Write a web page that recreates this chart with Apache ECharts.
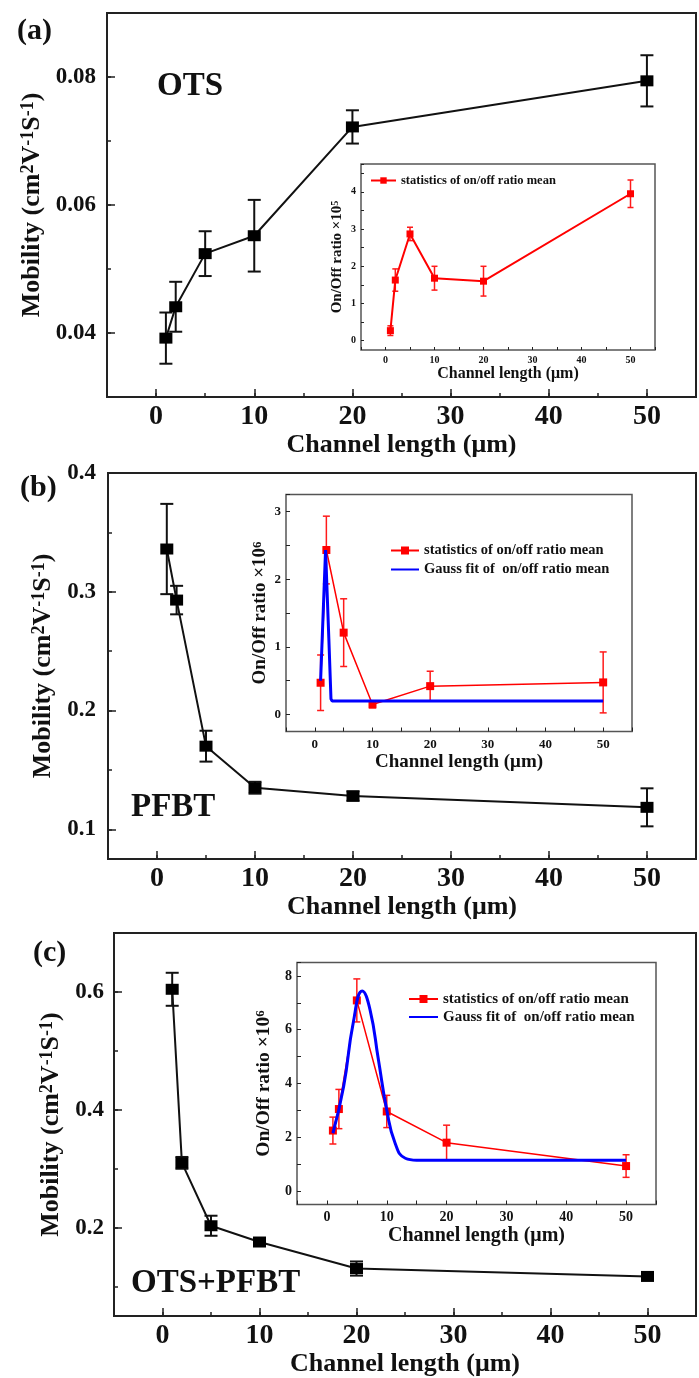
<!DOCTYPE html>
<html>
<head>
<meta charset="utf-8">
<script src="https://cdn.jsdelivr.net/npm/echarts@6/dist/echarts.min.js"></script>
<style>
  html, body { margin: 0; padding: 0; background: #fff; }
  #chart { width: 699px; height: 1378px; }
</style>
</head>
<body>
<div id="chart"></div>
<script>
// channel lengths (um), shared by every panel
const xLen = [1, 2, 5, 10, 20, 50];
const xTickLabels = [0, 10, 20, 30, 40, 50];

// (a) OTS
const aMob = [0.0392, 0.0441, 0.0524, 0.0552, 0.0722, 0.0794];
const aMobErr = [0.0040, 0.0039, 0.0035, 0.0056, 0.0026, 0.0040];
const aRatio = [0.27, 1.63, 2.87, 1.68, 1.60, 3.95];
const aRatioErr = [0.13, 0.30, 0.18, 0.32, 0.40, 0.37];

// (b) PFBT
const bMob = [0.336, 0.293, 0.170, 0.135, 0.128, 0.1185];
const bMobErr = [0.038, 0.012, 0.013, 0.005, 0.004, 0.016];
const bRatio = [0.47, 2.43, 1.21, 0.15, 0.42, 0.475];
const bRatioErr = [0.41, 0.50, 0.50, 0.05, 0.22, 0.45];
const bFitX = [1, 1.86, 2.43, 2.8, 3.0, 50];
const bFitY = [0.5, 2.43, 1.12, 0.23, 0.2, 0.2];

// (c) OTS+PFBT
const cMob = [0.6045, 0.310, 0.2033, 0.1757, 0.1307, 0.1173];
const cMobErr = [0.028, 0.010, 0.017, 0.006, 0.012, 0.006];
const cRatio = [2.25, 3.05, 7.09, 2.96, 1.80, 0.93];
const cRatioErr = [0.50, 0.73, 0.80, 0.60, 0.65, 0.42];
const cFitX = [1, 2.8, 4.4, 5.9, 7.2, 8.6, 10, 11.4, 13.1, 15, 50];
const cFitY = [2.15, 3.9, 6.26, 7.44, 6.75, 4.89, 3.02, 1.78, 1.22, 1.15, 1.15];

const RED_NAME = 'statistics of on/off ratio mean';
const BLUE_NAME = 'Gauss fit of  on/off ratio mean';
const FONT = '"Liberation Serif", "Times New Roman", serif';
const INK = '#111';

let myChart = echarts.init(document.getElementById('chart'));

function pts(xs, ys) { return xs.map((x, i) => [x, ys[i]]); }
function bars(ys, es) { return xLen.map((x, i) => [x, ys[i] - es[i], ys[i] + es[i]]); }

// vertical error bar with caps
function errorBar(capW, lw, color) {
  return function (params, api) {
    const x = api.value(0);
    const lo = api.coord([x, api.value(1)]);
    const hi = api.coord([x, api.value(2)]);
    const h = capW / 2;
    const style = { stroke: color, lineWidth: lw };
    return {
      type: 'group',
      children: [
        { type: 'line', shape: { x1: lo[0], y1: lo[1], x2: hi[0], y2: hi[1] }, style: style },
        { type: 'line', shape: { x1: lo[0] - h, y1: lo[1], x2: lo[0] + h, y2: lo[1] }, style: style },
        { type: 'line', shape: { x1: hi[0] - h, y1: hi[1], x2: hi[0] + h, y2: hi[1] }, style: style }
      ]
    };
  };
}

function xAx(gi, o) {
  return {
    type: 'value', gridIndex: gi, min: -5, max: 55, interval: 5, position: 'bottom',
    axisLine: { show: false, onZero: false },
    axisTick: { inside: true, length: o.tick, lineStyle: { color: '#222', width: o.tw } },
    splitLine: { show: false },
    axisLabel: {
      margin: o.margin, fontSize: o.fs, fontWeight: 'bold', fontFamily: FONT, color: INK,
      formatter: v => xTickLabels.indexOf(Math.round(v)) >= 0 && Math.abs(v - Math.round(v)) < 1e-9 ? String(Math.round(v)) : ''
    },
    name: 'Channel length (μm)', nameLocation: 'middle', nameGap: o.gap,
    nameTextStyle: { fontSize: o.nfs, fontWeight: 'bold', fontFamily: FONT, color: INK }
  };
}

function yAx(gi, o) {
  return {
    type: 'value', gridIndex: gi, min: o.min, max: o.max, position: 'left',
    minInterval: o.step, maxInterval: o.step,
    axisLine: { show: false, onZero: false },
    axisTick: { inside: true, length: o.tick, lineStyle: { color: '#222', width: o.tw } },
    splitLine: { show: false },
    axisLabel: {
      margin: o.margin, fontSize: o.fs, fontWeight: 'bold', fontFamily: FONT, color: INK,
      showMinLabel: false, formatter: o.fmt
    },
    name: o.name, nameLocation: 'middle', nameGap: o.gap,
    nameTextStyle: {
      rich: {
        n: { fontSize: o.nfs, fontWeight: 'bold', fontFamily: FONT, color: INK },
        s: { fontSize: Math.round(o.nfs * 0.68), fontWeight: 'bold', fontFamily: FONT, color: INK, verticalAlign: 'top' }
      }
    }
  };
}

// extra tick-only axis for the longer major ticks of the main panels
function majorAx(gi, pos, min, max, step) {
  return {
    type: 'value', gridIndex: gi, position: pos, min: min, max: max,
    minInterval: step, maxInterval: step,
    axisLine: { show: false, onZero: false },
    axisLabel: { show: false }, splitLine: { show: false },
    axisTick: { inside: true, length: 8, lineStyle: { color: '#222', width: 1.5 } }
  };
}

// label formatters: only the labelled ticks show text
function pick(list, dec) {
  return v => {
    for (const t of list) if (Math.abs(v - t) < 1e-6) return t.toFixed(dec);
    return '';
  };
}

const mobName = '{n|Mobility (cm}{s|2}{n|V}{s|-1}{n|S}{s|-1}{n|)}';
const ratio5 = '{n|On/Off ratio ×10}{s|5}';
const ratio6 = '{n|On/Off ratio ×10}{s|6}';

const mainX = { tick: 4, tw: 1.5, margin: 6, fs: 28, gap: 31, nfs: 26 };
const blueItem = { name: BLUE_NAME, itemStyle: { opacity: 0 } };

myChart.setOption({
  animation: false,
  backgroundColor: '#fff',
  grid: [
    { left: 107, top: 13, width: 592, height: 384, show: true, borderColor: '#222', borderWidth: 2 },
    { left: 361, top: 164, width: 294, height: 186, show: true, borderColor: '#555', borderWidth: 1.5 },
    { left: 108, top: 473, width: 592, height: 386, show: true, borderColor: '#222', borderWidth: 2 },
    { left: 286, top: 494.5, width: 346, height: 237, show: true, borderColor: '#555', borderWidth: 1.5 },
    { left: 114, top: 933, width: 596, height: 390, show: true, borderColor: '#222', borderWidth: 2 },
    { left: 297, top: 962.5, width: 359, height: 242, show: true, borderColor: '#555', borderWidth: 1.5 }
  ],
  xAxis: [
    xAx(0, mainX),
    xAx(1, { tick: 3, tw: 1, margin: 5, fs: 10, gap: 15, nfs: 16 }),
    xAx(2, mainX),
    xAx(3, { tick: 4, tw: 1, margin: 7, fs: 13, gap: 21, nfs: 19 }),
    xAx(4, mainX),
    xAx(5, { tick: 4, tw: 1, margin: 6, fs: 14, gap: 21, nfs: 20 }),
    majorAx(0, 'bottom', -5, 55, 10),
    majorAx(2, 'bottom', -5, 55, 10),
    majorAx(4, 'bottom', -5, 55, 10)
  ],
  yAxis: [
    yAx(0, { min: 0.03, max: 0.09, step: 0.01, tick: 4, tw: 1.5, margin: 11, fs: 23, gap: 56, nfs: 26,
             fmt: pick([0.04, 0.06, 0.08], 2), name: mobName }),
    yAx(1, { min: -0.25, max: 4.75, step: 0.5, tick: 3, tw: 1, margin: 5, fs: 10, gap: 16, nfs: 15,
             fmt: pick([0, 1, 2, 3, 4], 0), name: ratio5 }),
    yAx(2, { min: 0.075, max: 0.4, step: 0.05, tick: 4, tw: 1.5, margin: 12, fs: 23, gap: 50, nfs: 26,
             fmt: pick([0.1, 0.2, 0.3, 0.4], 1), name: mobName }),
    yAx(3, { min: -0.25, max: 3.25, step: 0.5, tick: 4, tw: 1, margin: 5, fs: 13, gap: 16, nfs: 19,
             fmt: pick([0, 1, 2, 3], 0), name: ratio6 }),
    yAx(4, { min: 0.05, max: 0.7, step: 0.1, tick: 4, tw: 1.5, margin: 10, fs: 23, gap: 50, nfs: 26,
             fmt: pick([0.2, 0.4, 0.6], 1), name: mobName }),
    yAx(5, { min: -0.5, max: 8.5, step: 1, tick: 4, tw: 1, margin: 5, fs: 14, gap: 16, nfs: 19.5,
             fmt: pick([0, 2, 4, 6, 8], 0), name: ratio6 }),
    majorAx(0, 'left', 0.03, 0.09, 0.02),
    majorAx(2, 'left', 0.075, 0.4, 0.1),
    majorAx(4, 'left', 0.05, 0.7, 0.2)
  ],
  legend: [
    { data: [RED_NAME], left: 370, top: 174, padding: 0, itemWidth: 25, itemHeight: 8,
      textStyle: { fontSize: 12.5, fontWeight: 'bold', fontFamily: FONT, color: INK } },
    { data: [RED_NAME, blueItem], orient: 'vertical', left: 390, top: 543, padding: 0, itemWidth: 28, itemHeight: 10, itemGap: 4,
      textStyle: { fontSize: 14.5, fontWeight: 'bold', fontFamily: FONT, color: INK } },
    { data: [RED_NAME, blueItem], orient: 'vertical', left: 408, top: 991.5, padding: 0, itemWidth: 29, itemHeight: 10, itemGap: 3,
      textStyle: { fontSize: 15, fontWeight: 'bold', fontFamily: FONT, color: INK } }
  ],
  graphic: [
    { type: 'text', x: 17, y: 31, style: { text: '(a)', font: 'bold 30px ' + FONT, fill: INK, verticalAlign: 'middle' } },
    { type: 'text', x: 157, y: 86, style: { text: 'OTS', font: 'bold 33px ' + FONT, fill: INK, verticalAlign: 'middle' } },
    { type: 'text', x: 20, y: 488, style: { text: '(b)', font: 'bold 30px ' + FONT, fill: INK, verticalAlign: 'middle' } },
    { type: 'text', x: 131, y: 807, style: { text: 'PFBT', font: 'bold 33px ' + FONT, fill: INK, verticalAlign: 'middle' } },
    { type: 'text', x: 33, y: 953, style: { text: '(c)', font: 'bold 30px ' + FONT, fill: INK, verticalAlign: 'middle' } },
    { type: 'text', x: 131, y: 1283, style: { text: 'OTS+PFBT', font: 'bold 33px ' + FONT, fill: INK, verticalAlign: 'middle' } }
  ],
  series: [
    // (a)
    { type: 'custom', xAxisIndex: 0, yAxisIndex: 0, renderItem: errorBar(13, 2, '#111'), data: bars(aMob, aMobErr), encode: { x: 0, y: [1, 2] }, z: 3 },
    { name: 'OTS mobility', type: 'line', xAxisIndex: 0, yAxisIndex: 0, data: pts(xLen, aMob),
      symbol: 'rect', symbolSize: [13, 11], itemStyle: { color: '#000' }, lineStyle: { color: '#111', width: 2 }, z: 4 },
    { type: 'custom', xAxisIndex: 1, yAxisIndex: 1, renderItem: errorBar(6, 1.5, '#ff1a1a'), data: bars(aRatio, aRatioErr), encode: { x: 0, y: [1, 2] }, z: 5 },
    { name: RED_NAME, type: 'line', xAxisIndex: 1, yAxisIndex: 1, data: pts(xLen, aRatio),
      symbol: 'rect', symbolSize: 7, itemStyle: { color: '#ff0000' }, lineStyle: { color: '#ff0000', width: 2 }, z: 6 },
    // (b)
    { type: 'custom', xAxisIndex: 2, yAxisIndex: 2, renderItem: errorBar(13, 2, '#111'), data: bars(bMob, bMobErr), encode: { x: 0, y: [1, 2] }, z: 3 },
    { name: 'PFBT mobility', type: 'line', xAxisIndex: 2, yAxisIndex: 2, data: pts(xLen, bMob),
      symbol: 'rect', symbolSize: [13, 11], itemStyle: { color: '#000' }, lineStyle: { color: '#111', width: 2 }, z: 4 },
    { type: 'custom', xAxisIndex: 3, yAxisIndex: 3, renderItem: errorBar(7, 1.5, '#ff1a1a'), data: bars(bRatio, bRatioErr), encode: { x: 0, y: [1, 2] }, z: 5 },
    { name: RED_NAME, type: 'line', xAxisIndex: 3, yAxisIndex: 3, data: pts(xLen, bRatio),
      symbol: 'rect', symbolSize: 8, itemStyle: { color: '#ff0000' }, lineStyle: { color: '#ff0000', width: 1.5 }, z: 6 },
    { name: BLUE_NAME, type: 'line', xAxisIndex: 3, yAxisIndex: 3, data: pts(bFitX, bFitY),
      symbol: 'none', lineStyle: { color: '#0000ff', width: 3 }, itemStyle: { color: '#0000ff' }, z: 7 },
    // (c)
    { type: 'custom', xAxisIndex: 4, yAxisIndex: 4, renderItem: errorBar(13, 2, '#111'), data: bars(cMob, cMobErr), encode: { x: 0, y: [1, 2] }, z: 3 },
    { name: 'OTS+PFBT mobility', type: 'line', xAxisIndex: 4, yAxisIndex: 4, data: pts(xLen, cMob),
      symbol: 'rect', symbolSize: [13, 11], itemStyle: { color: '#000' }, lineStyle: { color: '#111', width: 2 }, z: 4 },
    { type: 'custom', xAxisIndex: 5, yAxisIndex: 5, renderItem: errorBar(7, 1.5, '#ff1a1a'), data: bars(cRatio, cRatioErr), encode: { x: 0, y: [1, 2] }, z: 5 },
    { name: RED_NAME, type: 'line', xAxisIndex: 5, yAxisIndex: 5, data: pts(xLen, cRatio),
      symbol: 'rect', symbolSize: 8, itemStyle: { color: '#ff0000' }, lineStyle: { color: '#ff0000', width: 1.5 }, z: 6 },
    { name: BLUE_NAME, type: 'line', xAxisIndex: 5, yAxisIndex: 5, data: pts(cFitX, cFitY),
      symbol: 'none', smooth: 0.5, lineStyle: { color: '#0000ff', width: 3 }, itemStyle: { color: '#0000ff' }, z: 7 }
  ]
});
</script>
</body>
</html>
